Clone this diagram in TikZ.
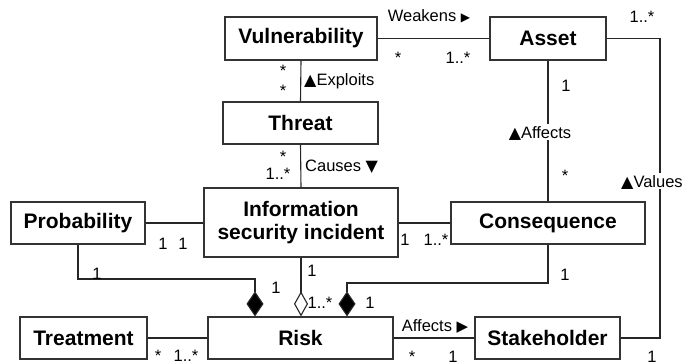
\documentclass[tikz,border=0pt]{standalone}
\usepackage{fontspec}
\setmainfont{Liberation Sans}
\newfontfamily\symf{DejaVu Sans}
\usetikzlibrary{arrows.meta}
\newcommand{\tri}[2]{{\symf\fontsize{#1}{14}\selectfont #2}}
\begin{document}
\begin{tikzpicture}[x=1pt,y=-1pt,
 cls/.style={draw=black!80, line width=1.2pt, fill=white, inner sep=0pt,
   font=\fontsize{21}{23}\selectfont\bfseries, align=center},
 conn/.style={draw=black!85, line width=1.1pt},
 lbl/.style={font=\fontsize{16.5}{18}\selectfont, inner sep=0pt, text height=12pt, text depth=0pt},
 wlbl/.style={lbl, fill=white, inner xsep=1pt, inner ysep=2pt},
 comp/.style={-{Diamond[length=25pt,width=17pt,fill=black]}},
 aggr/.style={-{Diamond[open,length=25pt,width=14pt,fill=white]}}
]
\useasboundingbox (0,0) rectangle (686,364);

% classes
\node[cls, minimum width=152pt, minimum height=43pt] (vul) at (301,38.5) {Vulnerability};
\node[cls, minimum width=116pt, minimum height=43pt] (asset) at (548,38.5) {Asset};
\node[cls, minimum width=155pt, minimum height=42pt] (threat) at (300.5,123) {Threat};
\node[cls, minimum width=194pt, minimum height=69pt] (inc) at (301,222.5) {Information\\security incident};
\node[cls, minimum width=134pt, minimum height=42pt] (prob) at (78,223) {Probability};
\node[cls, minimum width=194pt, minimum height=42pt] (cons) at (548,223) {Consequence};
\node[cls, minimum width=127pt, minimum height=42pt] (treat) at (83.5,338) {Treatment};
\node[cls, minimum width=185pt, minimum height=42pt] (risk) at (300.5,338) {Risk};
\node[cls, minimum width=145pt, minimum height=42pt] (stake) at (547.5,338) {Stakeholder};

% plain associations
\draw[conn] (vul.east) -- (asset.west);
\draw[conn] (vul.south) -- (threat.north);
\draw[conn] (threat.south) -- (inc.north);
\draw[conn] (prob.east) -- (prob.east -| inc.west);
\draw[conn] (inc.east |- cons.west) -- (cons.west);
\draw[conn] (asset.south) -- (cons.north);
\draw[conn] (treat.east) -- (risk.west);
\draw[conn] (risk.east) -- (stake.west);
\coordinate (vx) at (660,200);
\draw[conn] (asset.east) -| (vx) |- (stake.east);

% composition / aggregation
\coordinate (d1) at (255,279);
\draw[conn,comp] (prob.south) |- (d1) -- (d1 |- risk.north);
\draw[conn,aggr] (inc.south) -- (inc.south |- risk.north);
\coordinate (d3) at (347,283);
\draw[conn,comp] (cons.south) |- (d3) -- (d3 |- risk.north);

% association names
\node[lbl] (lw) at (429,15) {Weakens \tri{12}{▶}};
\node[lbl, anchor=west] (le) at (304,79) {\tri{16}{▲}Exploits};
\node[lbl, anchor=west] (lc) at (305,165) {Causes \tri{16}{▼}};
\node[wlbl] (la) at (540,132) {\tri{16}{▲}Affects};
\node[wlbl, anchor=west] (lv) at (620,181) {\tri{16}{▲}Values};
\node[lbl] (ls) at (435,325) {Affects \tri{15}{▶}};

% multiplicities
\node[lbl] (m1) at (398,57) {*};
\node[lbl] (m2) at (458,57) {1..*};
\node[lbl] (m3) at (642,16) {1..*};
\node[lbl] (m4) at (283,70) {*};
\node[lbl] (m5) at (283,90) {*};
\node[lbl] (m6) at (283,156) {*};
\node[lbl] (m7) at (278,173) {1..*};
\node[lbl] (m8) at (566,85) {1};
\node[lbl] (m9) at (565,175) {*};
\node[lbl] (m10) at (163,243) {1};
\node[lbl] (m11) at (183,243) {1};
\node[lbl] (m12) at (405,239) {1};
\node[lbl] (m13) at (436,239) {1..*};
\node[lbl] (m14) at (97,273) {1};
\node[lbl] (m15) at (276,287) {1};
\node[lbl] (m16) at (312,270) {1};
\node[lbl] (m17) at (320,302) {1..*};
\node[lbl] (m18) at (565,274) {1};
\node[lbl] (m19) at (370,302) {1};
\node[lbl] (m20) at (158,355) {*};
\node[lbl] (m21) at (186,355) {1..*};
\node[lbl] (m22) at (412,356) {*};
\node[lbl] (m23) at (453,356) {1};
\node[lbl] (m24) at (652,356) {1};
\end{tikzpicture}
\end{document}
